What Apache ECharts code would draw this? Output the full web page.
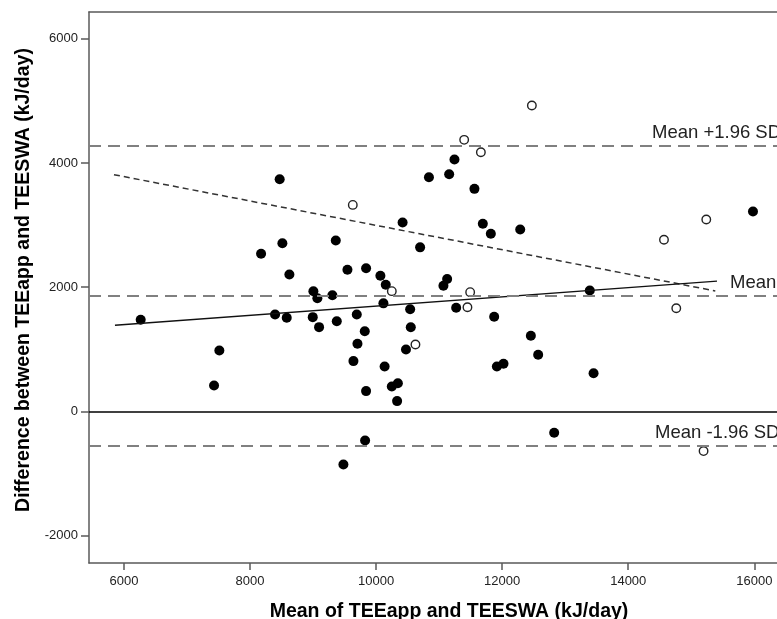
<!DOCTYPE html>
<html><head><meta charset="utf-8">
<script src="https://cdn.jsdelivr.net/npm/echarts@6/dist/echarts.min.js"></script>
<style>html,body{margin:0;padding:0;background:#fff}#c{width:777px;height:619px}</style>
</head><body><div id="c"></div>
<script>
const xTicks = [6000, 8000, 10000, 12000, 14000, 16000];
const yTicks = [-2000, 0, 2000, 4000, 6000];

const filledX = [6265, 7513, 7429, 8397, 8582, 8995, 9095, 9376, 9693, 9820, 9704, 9640, 9841, 10135, 10249, 10345, 10333, 9825, 9481, 10116,
  8470, 10420, 8513, 8175, 9360, 8624, 9545, 9841, 10068, 10153, 9005, 9068, 9306, 10698, 10540, 11068, 11127, 10550, 10474, 10838,
  11243, 11159, 11560, 11693, 11820, 12286, 11270, 13390, 15979, 11873, 12455, 12571, 11916, 12021, 13450, 12825];
const filledY = [1475, 981, 418, 1561, 1507, 1518, 1357, 1453, 1561, 1292, 1089, 810, 327, 724, 400, 455, 166, -467, -853, 1740,
  3738, 3040, 2708, 2537, 2751, 2204, 2280, 2306, 2183, 2038, 1936, 1823, 1871, 2641, 1646, 2022, 2132, 1354, 998, 3770,
  4055, 3818, 3583, 3020, 2859, 2928, 1668, 1947, 3218, 1525, 1218, 912, 724, 767, 616, -343];

const openX = [9630, 10249, 10624, 12471, 11397, 11662, 11492, 11449, 15238, 14567, 14762, 15195];
const openY = [3325, 1936, 1078, 4924, 4372, 4172, 1920, 1678, 3089, 2763, 1662, -639];

const refNames = ['Mean +1.96 SD', 'Mean', 'Mean -1.96 SD'];
const refValues = [4274, 1855, -548];

const fitSolidX = [5857, 15408];
const fitSolidY = [1387, 2097];
const fitDashX = [5841, 15381];
const fitDashY = [3811, 1940];

const FONT = "'Liberation Sans', Arial, sans-serif";
const pairs = (xs, ys) => xs.map((x, i) => [x, ys[i]]);
const labelStartX = [14377, 15614, 14425];

const chart = echarts.init(document.getElementById('c'));
const axisLineStyle = { color: '#5a5a5a', width: 1.5 };
const plain = v => String(v);

chart.setOption({
  animation: false,
  backgroundColor: '#fff',
  textStyle: { fontFamily: FONT },
  grid: { left: 89, top: 12, right: 0, bottom: 56, containLabel: false, outerBoundsMode: 'none' },
  xAxis: [{
    type: 'value', min: 5445, max: 16360, position: 'bottom',
    axisLine: { show: true, onZero: false, lineStyle: axisLineStyle },
    axisTick: { show: true, length: 7, customValues: xTicks, lineStyle: axisLineStyle },
    axisLabel: { customValues: xTicks, formatter: plain, fontSize: 13, color: '#222', margin: 12, fontFamily: FONT },
    splitLine: { show: false },
    name: 'Mean of TEEapp and TEESWA (kJ/day)',
    nameLocation: 'middle', nameGap: 39,
    nameTextStyle: { fontWeight: 'bold', fontSize: 19.5, color: '#000', fontFamily: FONT, padding: [0, 0, 0, 32] }
  }, {
    type: 'value', min: 5445, max: 16360, position: 'top',
    axisLine: { show: true, onZero: false, lineStyle: axisLineStyle },
    axisTick: { show: false }, axisLabel: { show: false }, splitLine: { show: false }
  }],
  yAxis: [{
    type: 'value', min: -2440, max: 6430,
    axisLine: { show: true, onZero: false, lineStyle: axisLineStyle },
    axisTick: { show: true, length: 8, customValues: yTicks, lineStyle: axisLineStyle },
    axisLabel: { customValues: yTicks, formatter: plain, fontSize: 13, color: '#222', margin: 11, fontFamily: FONT },
    splitLine: { show: false },
    name: 'Difference between TEEapp and TEESWA (kJ/day)',
    nameLocation: 'middle', nameGap: 54, nameRotate: 90,
    nameTextStyle: { fontWeight: 'bold', fontSize: 19.5, color: '#000', fontFamily: FONT, padding: [0, 0, 0, 15] }
  }],
  series: [
    {
      type: 'line', data: [], silent: true,
      markLine: {
        silent: true, symbol: ['none', 'none'], animation: false,
        label: { show: false },
        data: [
          ...refValues.map(v => ({ yAxis: v, lineStyle: { color: '#808080', width: 2, type: [12, 7], opacity: 1 } })),
          { yAxis: 0, lineStyle: { color: '#000', width: 1.5, type: 'solid', opacity: 1 } }
        ]
      }
    },
    {
      type: 'line', data: pairs(fitDashX, fitDashY), showSymbol: false, symbol: 'none', silent: true,
      lineStyle: { color: '#333', width: 1.5, type: [6, 4], opacity: 1 }
    },
    {
      type: 'line', data: pairs(fitSolidX, fitSolidY), showSymbol: false, symbol: 'none', silent: true,
      lineStyle: { color: '#111', width: 1.3, type: 'solid', opacity: 1 }
    },
    {
      type: 'scatter', data: pairs(filledX, filledY), symbol: 'circle', symbolSize: 10,
      itemStyle: { color: '#000', opacity: 1 }
    },
    {
      type: 'scatter', data: pairs(openX, openY), symbol: 'circle', symbolSize: 8.5,
      itemStyle: { color: '#fff', borderColor: '#222', borderWidth: 1.4, opacity: 1 }
    },
    {
      type: 'scatter', symbolSize: 0, silent: true,
      data: refNames.map((n, i) => ({ name: n, value: [labelStartX[i], refValues[i]] })),
      itemStyle: { opacity: 1 },
      label: {
        show: true, position: 'right', distance: 0, offset: [0, -13],
        formatter: p => p.name, fontSize: 18.5, color: '#222', fontFamily: FONT
      }
    }
  ]
});
</script>
</body></html>
